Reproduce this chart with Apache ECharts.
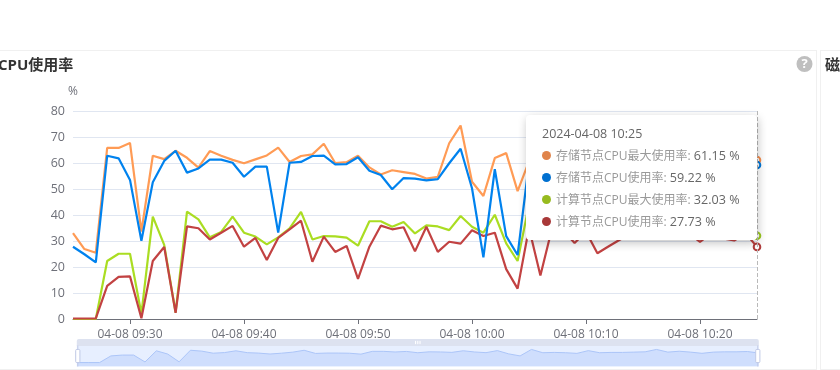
<!DOCTYPE html>
<html><head><meta charset="utf-8">
<style>html,body{margin:0;padding:0;background:#fff;overflow:hidden}#c{width:840px;height:370px}</style>
<script src="https://cdn.jsdelivr.net/npm/echarts@6/dist/echarts.min.js"></script>
</head><body><div id="c"></div>
<script>
const categories = [
"2024-04-08 09:25","2024-04-08 09:26","2024-04-08 09:27","2024-04-08 09:28","2024-04-08 09:29","2024-04-08 09:30","2024-04-08 09:31","2024-04-08 09:32","2024-04-08 09:33","2024-04-08 09:34",
"2024-04-08 09:35","2024-04-08 09:36","2024-04-08 09:37","2024-04-08 09:38","2024-04-08 09:39","2024-04-08 09:40","2024-04-08 09:41","2024-04-08 09:42","2024-04-08 09:43","2024-04-08 09:44",
"2024-04-08 09:45","2024-04-08 09:46","2024-04-08 09:47","2024-04-08 09:48","2024-04-08 09:49","2024-04-08 09:50","2024-04-08 09:51","2024-04-08 09:52","2024-04-08 09:53","2024-04-08 09:54",
"2024-04-08 09:55","2024-04-08 09:56","2024-04-08 09:57","2024-04-08 09:58","2024-04-08 09:59","2024-04-08 10:00","2024-04-08 10:01","2024-04-08 10:02","2024-04-08 10:03","2024-04-08 10:04",
"2024-04-08 10:05","2024-04-08 10:06","2024-04-08 10:07","2024-04-08 10:08","2024-04-08 10:09","2024-04-08 10:10","2024-04-08 10:11","2024-04-08 10:12","2024-04-08 10:13","2024-04-08 10:14",
"2024-04-08 10:15","2024-04-08 10:16","2024-04-08 10:17","2024-04-08 10:18","2024-04-08 10:19","2024-04-08 10:20","2024-04-08 10:21","2024-04-08 10:22","2024-04-08 10:23","2024-04-08 10:24",
"2024-04-08 10:25"];
const computeMax = [0,0,0,22.3,25.1,25.1,2,39.4,28.5,2.5,41.3,38.3,31.4,33.5,39.4,33.2,31.7,28.7,31.4,34.9,41.2,30.6,31.9,31.8,31.3,28.2,37.6,37.6,35.5,37.3,32.9,36,35.6,34.2,39.6,35.5,33.2,40.1,29.1,22.3,44,33,34,33,30.8,40,33,34,34,35,36,44,35,38,35,31,35,36,36,37,32.03];
const computeAvg = [0.2,0.2,0.2,12.7,16.2,16.4,0.3,22.3,27.7,2.4,35.6,34.9,30.6,33.2,35.8,27.8,31.2,22.7,31.2,34.5,37.8,22,31.7,25.8,28.1,15.4,27.8,35.9,34.5,35.3,26,35.5,25.8,29.7,29,34.1,31.9,33.2,19.2,11.7,35,16.7,34.5,34,29.2,33.6,25.3,28,30.6,33,34,36,34,34,33,29.7,33,31,30.2,33,27.73];
const storageMax = [33,26.9,25.5,65.8,65.8,67.7,33.6,62.8,61.5,64.7,62,58.2,64.6,62.8,61.2,59.9,61.4,62.9,65.9,60.4,62.7,63.3,67.4,60,60.3,62.8,58.3,55.6,57.2,56.5,55.8,54,54.7,67.6,74.4,52.8,47.3,61.9,63.8,49.2,60.6,60,62,60,58,61,60,59,60,61,60,62,60,61,59,58,60,61,60,62,61.15];
const storageAvg = [27.8,24.9,21.8,62.8,61.8,53.5,30.1,52.6,60.8,64.7,56.3,57.9,61.3,61.3,60.1,54.7,58.6,58.6,33.2,60.1,60.4,62.7,62.8,59.5,59.6,62.2,57,55.4,49.9,54.2,54,53.3,53.8,59.9,65.5,50.3,23.7,57.6,31.9,24.6,60,58,60,58,56,59,58,57,58,59,58,60,58,59,57,56,58,59,58,60,59.22];
const seriesNames = ["计算节点CPU最大使用率","计算节点CPU使用率","存储节点CPU最大使用率","存储节点CPU使用率"];
const seriesData = [computeMax, computeAvg, storageMax, storageAvg];
const lineColors = ["#9BC91F","#B13C3C","#F58D4E","#0077D9"];
const markerColors = ["#97BB1F","#A83838","#E0844B","#0070D0"];

const FONT = '"Open Sans","Noto Sans CJK SC",sans-serif';
const tickAt = i => i % 10 === 5;
const chart = echarts.init(document.getElementById('c'), null, {renderer:'canvas'});
const panelLine = '#F0F0F0';
chart.setOption({
  animation:false,
  backgroundColor:'#fff',
  textStyle:{fontFamily:FONT},
  graphic:[
    {type:'line',silent:true,shape:{x1:0,y1:50.5,x2:816,y2:50.5},style:{stroke:panelLine,lineWidth:1}},
    {type:'line',silent:true,shape:{x1:0,y1:369.5,x2:816,y2:369.5},style:{stroke:panelLine,lineWidth:1}},
    {type:'line',silent:true,shape:{x1:816.5,y1:50,x2:816.5,y2:370},style:{stroke:panelLine,lineWidth:1}},
    {type:'line',silent:true,shape:{x1:820.5,y1:50,x2:820.5,y2:370},style:{stroke:panelLine,lineWidth:1}},
    {type:'line',silent:true,shape:{x1:820,y1:50.5,x2:840,y2:50.5},style:{stroke:panelLine,lineWidth:1}},
    {type:'line',silent:true,shape:{x1:820,y1:369.5,x2:840,y2:369.5},style:{stroke:panelLine,lineWidth:1}},
    {type:'text',silent:true,x:-2,y:66,style:{text:'CPU使用率',fill:'#333',font:'bold 15px '+FONT,textVerticalAlign:'middle'}},
    {type:'text',silent:true,x:825,y:66,style:{text:'磁',fill:'#333',font:'bold 15px '+FONT,textVerticalAlign:'middle'}},
    {type:'circle',silent:true,shape:{cx:804.5,cy:64,r:8},style:{fill:'#BFBFBF'}},
    {type:'text',silent:true,x:804.5,y:64,style:{text:'?',fill:'#fff',font:'bold 13px '+FONT,textAlign:'center',textVerticalAlign:'middle'}}
  ],
  grid:{left:73,right:83,top:111,bottom:51},
  xAxis:{type:'category',boundaryGap:false,data:categories,
    axisLine:{lineStyle:{color:'#6E7079'}},
    axisTick:{interval:i=>tickAt(i),length:5,lineStyle:{color:'#6E7079'}},
    axisLabel:{interval:i=>tickAt(i),color:'#6E7079',fontSize:12,margin:10,formatter:v=>v.slice(5)},
    splitLine:{show:false}},
  yAxis:{type:'value',min:0,max:80,interval:10,name:'%',
    nameTextStyle:{color:'#6E7079',fontSize:12},nameGap:13,
    axisLine:{show:false},axisTick:{show:false},
    axisLabel:{color:'#6E7079',fontSize:12.5,margin:8,padding:[2,0,0,0]},
    splitLine:{lineStyle:{color:'#E0E6F1'}}},
  dataZoom:[{type:'slider',start:0,end:100,left:74,right:84,top:339,height:21,labelFormatter:()=>'',
    borderColor:'transparent',backgroundColor:'transparent',
    fillerColor:'rgba(135,175,274,0.2)',
    moveHandleStyle:{color:'#DDE2F0',opacity:1},
    dataBackground:{lineStyle:{color:'#D2DBEE',width:0.5},areaStyle:{color:'#D2DBEE',opacity:0.3}},
    selectedDataBackground:{lineStyle:{color:'#B5CBF7',width:1},areaStyle:{color:'#A9C4F8',opacity:0.35}}}],
  tooltip:{trigger:'axis',alwaysShowContent:true,transitionDuration:0,
    position:[526,115],
    padding:[11,16,10,16],
    backgroundColor:'#fff',borderWidth:0,borderRadius:4,
    extraCssText:'box-shadow:1px 3px 10px rgba(0,0,0,.24);box-sizing:border-box;width:231px;height:125px;',
    axisPointer:{type:'line',lineStyle:{color:'#B9B9B9',type:'dashed',width:1}},
    formatter:ps=>{
      const rows=[...ps].sort((a,b)=>b.value-a.value).map(p=>
        `<div style="height:22px;line-height:22px;white-space:nowrap;font-size:12px;color:#999"><span style="display:inline-block;width:9px;height:9px;border-radius:50%;background:${markerColors[p.seriesIndex]};margin-right:5px;vertical-align:0"></span>${p.seriesName}: <span style="color:#666;font-size:12.6px">${p.value} %</span></div>`).join('');
      return `<div style="font-family:${FONT.replace(/"/g,"'")}"><div style="font-size:12.5px;color:#666;line-height:16px;margin-bottom:3px">${ps[0].axisValue}</div>${rows}</div>`;
    }},
  series:seriesData.map((d,k)=>({type:'line',name:seriesNames[k],data:d,showSymbol:false,symbol:'emptyCircle',symbolSize:6,
    lineStyle:{width:2.2,color:lineColors[k]},itemStyle:{color:lineColors[k],borderWidth:2},
    emphasis:{disabled:false,scale:true,lineStyle:{width:2.2}}}))
});
chart.dispatchAction({type:'showTip',seriesIndex:0,dataIndex:60});
</script></body></html>
